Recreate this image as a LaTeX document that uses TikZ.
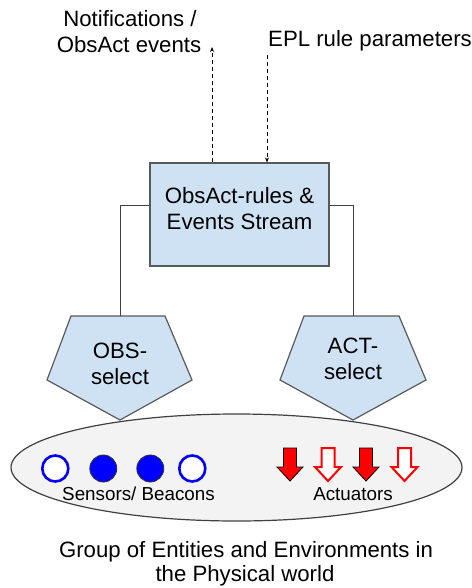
\documentclass[tikz,border=0pt]{standalone}
\usepackage{fontspec}
\setmainfont{Liberation Sans}
\usetikzlibrary{arrows.meta,shapes.geometric}
\def\obspentagon{(71,316) -- (165,316) -- (192,380) -- (120,420) -- (47,380) -- cycle}
\def\actpentagon{(304,316) -- (399,316) -- (426,380) -- (353,420) -- (280,380) -- cycle}
\definecolor{box area}{HTML}{CFE2F3}
\definecolor{world area}{HTML}{F3F3F3}
\colorlet{box edge}{black!65}
\tikzset{filled/.style={fill=box area, draw=box edge, line width=1.2pt},
	link/.style={draw=black!75, line width=0.9pt},
	flow/.style={draw=black, dashed, dash pattern=on 4pt off 3pt, line width=0.9pt, -{Stealth[length=5pt,width=4pt]}},
	label/.style={font=\fontsize{22.2}{26}\selectfont, align=center, inner sep=0pt},
	small/.style={font=\fontsize{18.8}{22}\selectfont, inner sep=0pt},
	beaconopen/.style={circle, draw=blue, fill=white, line width=2.6pt, minimum size=26pt, inner sep=0pt},
	beaconfull/.style={circle, draw=black!80, fill=blue, line width=0.8pt, minimum size=27pt, inner sep=0pt},
	actarrow/.pic={\path[pic actions] (-6.5,-17) -- (6.5,-17) -- (6.5,2) -- (13,2) -- (0,16) -- (-13,2) -- (-6.5,2) -- cycle;}}

\begin{document}
\begin{tikzpicture}[x=1pt, y={(0pt,-1pt)}]
		\useasboundingbox (0,0) rectangle (471,588);
		\node[ellipse, fill=world area, draw=black!75, line width=1.2pt, minimum width=451pt, minimum height=107pt] (world) at (236.5,467.5) {};
		
		\node[filled, label, minimum width=179pt, minimum height=103pt, text depth=13pt] (rules) at (239.5,214.5) {ObsAct-rules \&\\Events Stream};
		\draw[filled] \obspentagon;
		\draw[filled] \actpentagon;
		\coordinate (obstop) at (120,316);
		\coordinate (acttop) at (353,316);
		\node[label] (obs) at (120,364) {OBS-\\select};
		\node[label] (act) at (353,359) {ACT-\\select};
		\draw[link] ([yshift=9.5pt]rules.west) -| (obstop);
		\draw[link] ([yshift=9.5pt]rules.east) -| (acttop);
		
		\node[label, anchor=base] (notify) at (130,27) {Notifications /};
		\node[label, anchor=base] (events) at (129,53) {ObsAct events};
		\node[label, anchor=base west] (epl) at (268,47) {EPL rule parameters};
		\coordinate (out) at (212,47);
		\coordinate (in) at (267,55);
		\draw[flow] (rules.north -| out) -- (out);
		\draw[flow] (in) -- (rules.north -| in);
		
		\node[beaconopen] (s1) at (55.3,468.5) {};
		\node[beaconfull] (s2) at (103.3,468.5) {};
		\node[beaconfull] (s3) at (150.3,468.5) {};
		\node[beaconopen] (s4) at (192.3,468.5) {};
		\node[small, anchor=base] (sensors) at (138.5,500) {Sensors/ Beacons};
		\pic[fill=red, draw=black, line width=0.8pt] at (290,465) {actarrow};
		\pic[fill=white, draw=red, line width=2pt] at (328,465) {actarrow};
		\pic[fill=red, draw=black, line width=0.8pt] at (366,465) {actarrow};
		\pic[fill=white, draw=red, line width=2pt] at (404.5,465) {actarrow};
		\node[small, anchor=base] (actuators) at (353,500) {Actuators};
		
		\node[label, anchor=base] (group) at (246,557) {Group of Entities and Environments in};
		\node[label, anchor=base] (physical) at (245,581) {the Physical world};
		\end{tikzpicture}
\end{document}
